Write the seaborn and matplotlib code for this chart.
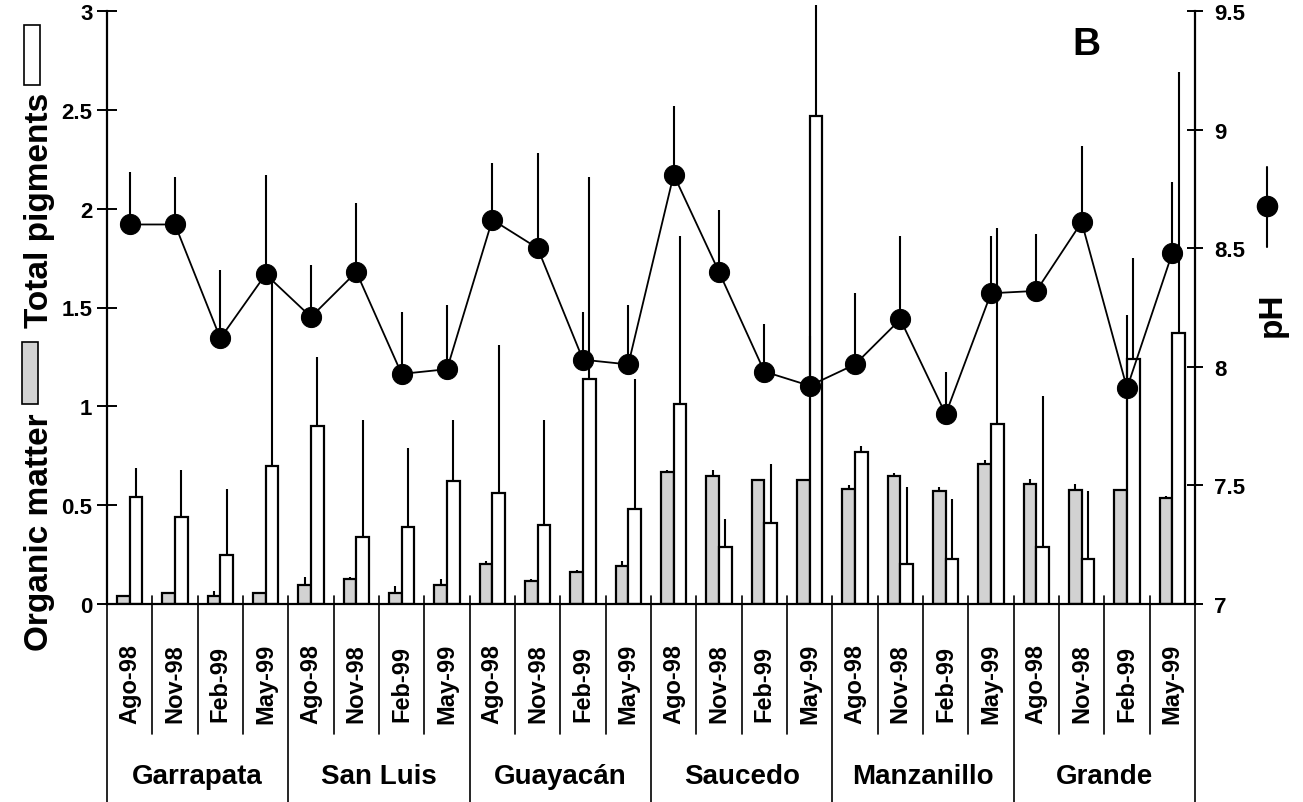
import numpy as np
import pandas as pd
import matplotlib
matplotlib.use("Agg")
import matplotlib.pyplot as plt
import matplotlib.transforms as mtransforms
from matplotlib.patches import Rectangle
import seaborn as sns

# ---- data -------------------------------------------------------------
sites = ["Garrapata", "San Luis", "Guayacán", "Saucedo", "Manzanillo", "Grande"]
months = ["Ago-98", "Nov-98", "Feb-99", "May-99"]

# organic matter (mean, upper error limit)
om = [0.04, 0.055, 0.04, 0.055,
      0.096, 0.124, 0.054, 0.096,
      0.204, 0.116, 0.160, 0.190,
      0.668, 0.650, 0.626, 0.626,
      0.584, 0.646, 0.574, 0.706,
      0.606, 0.576, 0.576, 0.536]
om_hi = [0.04, 0.060, 0.066, 0.060,
         0.138, 0.136, 0.090, 0.126,
         0.216, 0.126, 0.170, 0.216,
         0.680, 0.676, 0.634, 0.630,
         0.600, 0.664, 0.594, 0.730,
         0.630, 0.606, 0.580, 0.546]

# total pigments (mean, upper error limit)
tp = [0.54, 0.44, 0.25, 0.70,
      0.90, 0.34, 0.39, 0.62,
      0.56, 0.40, 1.14, 0.48,
      1.01, 0.29, 0.41, 2.47,
      0.77, 0.20, 0.23, 0.91,
      0.29, 0.23, 1.24, 1.37]
tp_hi = [0.69, 0.68, 0.58, 1.69,
         1.25, 0.93, 0.79, 0.93,
         1.31, 0.93, 2.16, 1.14,
         1.86, 0.43, 0.71, 3.03,
         0.80, 0.59, 0.53, 1.90,
         1.05, 0.57, 1.75, 2.69]

# pH (mean, upper error limit)
ph = [8.60, 8.60, 8.12, 8.39,
      8.21, 8.40, 7.97, 7.99,
      8.62, 8.50, 8.03, 8.01,
      8.81, 8.40, 7.98, 7.92,
      8.01, 8.20, 7.80, 8.31,
      8.32, 8.61, 7.91, 8.48]
ph_hi = [8.82, 8.80, 8.41, 8.81,
         8.43, 8.69, 8.23, 8.26,
         8.86, 8.90, 8.23, 8.26,
         9.10, 8.66, 8.18, 8.13,
         8.31, 8.55, 7.98, 8.55,
         8.56, 8.93, 8.22, 8.78]

left_ticks = [0, 0.5, 1, 1.5, 2, 2.5, 3]
left_ticklabels = ["0", "0.5", "1", "1.5", "2", "2.5", "3"]
right_ticks = [7, 7.5, 8, 8.5, 9, 9.5]
right_ticklabels = ["7", "7.5", "8", "8.5", "9", "9.5"]

# ---- long-form table ---------------------------------------------------
slots = [f"{s}|{m}" for s in sites for m in months]
df = pd.DataFrame({
    "slot": slots * 2,
    "var": ["om"] * len(slots) + ["tp"] * len(slots),
    "value": om + tp,
})

# ---- styling ------------------------------------------------------------
sns.set_style("white")
plt.rcParams["font.family"] = ["Liberation Sans", "DejaVu Sans"]
plt.rcParams["font.weight"] = "bold"
plt.rcParams["text.color"] = "black"
plt.rcParams["axes.labelcolor"] = "black"
plt.rcParams["xtick.color"] = "black"
plt.rcParams["ytick.color"] = "black"

W, H = 1303, 803
fig = plt.figure(figsize=(W / 100, H / 100), dpi=100)
x0, x1, ybot, ytop = 107, 1195, 605, 12
ax = fig.add_axes([x0 / W, (H - ybot) / H, (x1 - x0) / W, (ybot - ytop) / H])

GRAY = "#d2d2d2"
sns.barplot(data=df, x="slot", y="value", hue="var", hue_order=["om", "tp"],
            order=slots, palette={"om": GRAY, "tp": "white"},
            width=0.56, dodge=True, edgecolor="black", linewidth=1.6,
            legend=False, errorbar=None, ax=ax, zorder=2)

# one-sided (upper) error lines on the bars
for cont, hi in zip(ax.containers, [om_hi, tp_hi]):
    for bar, top in zip(cont.patches, hi):
        cx = bar.get_x() + bar.get_width() / 2
        ax.vlines(cx, bar.get_height(), top, color="black", lw=1.5,
                  zorder=3, clip_on=False)

ax.set_xlim(-0.5, len(slots) - 0.5)
ax.set_ylim(0, 3)
ax.set_yticks(left_ticks)
ax.set_yticklabels(left_ticklabels)
ax.set_xticks([])
ax.set_xlabel("")
ax.set_ylabel("")
for side in ["top", "right"]:
    ax.spines[side].set_visible(False)
for side in ["left", "bottom"]:
    ax.spines[side].set_linewidth(1.6)
    ax.spines[side].set_color("black")
ax.tick_params(axis="y", direction="inout", length=15, width=1.4,
               labelsize=16, pad=3, colors="black")
for lab in ax.get_yticklabels():
    lab.set_fontweight("bold")

# pH on the secondary axis
ax2 = ax.twinx()
xpos = np.arange(len(slots))
sns.lineplot(x=xpos, y=ph, ax=ax2, color="black", lw=1.3, marker="o",
             markersize=14.5, markeredgecolor="black", zorder=4)
ax2.vlines(xpos, ph, ph_hi, color="black", lw=1.5, zorder=3)
ax2.set_ylim(7, 9.5)
ax2.set_yticks(right_ticks)
ax2.set_yticklabels(right_ticklabels)
ax2.set_xlim(-0.5, len(slots) - 0.5)
ax2.set_ylabel("")
for side in ["top", "left", "bottom"]:
    ax2.spines[side].set_visible(False)
ax2.spines["right"].set_linewidth(1.6)
ax2.spines["right"].set_color("black")
ax2.tick_params(axis="y", direction="inout", length=12, width=1.4,
                labelsize=16, pad=8, colors="black")
for lab in ax2.get_yticklabels():
    lab.set_fontweight("bold")

# ---- hierarchical category axis ------------------------------------------
axh = ybot - ytop
def ax_y(px):
    return (ybot - px) / axh

trans = mtransforms.blended_transform_factory(ax.transData, ax.transAxes)
n_m = len(months)
for i in range(1, len(slots)):
    bx = i - 0.5
    is_group = i % n_m == 0
    ax.plot([bx, bx], [ax_y(597), ax_y(803 if is_group else 735)],
            color="black", lw=1.2, transform=trans, clip_on=False)
for bx in [-0.5, len(slots) - 0.5]:
    ax.plot([bx, bx], [0, ax_y(803)], color="black", lw=1.2,
            transform=trans, clip_on=False)

for i, s in enumerate(slots):
    ax.text(i, ax_y(684), s.split("|")[1], rotation=90, ha="center",
            va="center", fontsize=17, fontweight="bold", transform=trans)
for g, site in enumerate(sites):
    ax.text(g * n_m + (n_m - 1) / 2, ax_y(777), site, ha="center",
            va="center", fontsize=20, fontweight="bold", transform=trans)

# ---- axis titles with their swatches ------------------------------------
def fx(px):
    return px / W
def fy(py):
    return (H - py) / H

fig.text(fx(40), fy(532), "Organic matter", rotation=90, ha="center",
         va="center", fontsize=24, fontweight="bold")
fig.patches.append(Rectangle((fx(22), fy(405)), 16 / W, 62 / H,
                             transform=fig.transFigure, facecolor=GRAY,
                             edgecolor="black", lw=1.2))
fig.text(fx(40), fy(210), "Total pigments", rotation=90, ha="center",
         va="center", fontsize=24, fontweight="bold")
fig.patches.append(Rectangle((fx(24), fy(86)), 16 / W, 60 / H,
                             transform=fig.transFigure, facecolor="white",
                             edgecolor="black", lw=1.2))

fig.text(fx(1272), fy(315), "pH", rotation=90, ha="center", va="center",
         fontsize=24, fontweight="bold")
fig.add_artist(plt.Line2D([fx(1267), fx(1267)], [fy(168), fy(248)],
                          transform=fig.transFigure, color="black", lw=1.5))
fig.add_artist(plt.Line2D([fx(1267)], [fy(207)], transform=fig.transFigure,
                          marker="o", markersize=14.5, color="black"))

fig.text(fx(1086), fy(45), "B", ha="center", va="center", fontsize=28,
         fontweight="bold")

fig.savefig("out.png", dpi=100, facecolor="white")
